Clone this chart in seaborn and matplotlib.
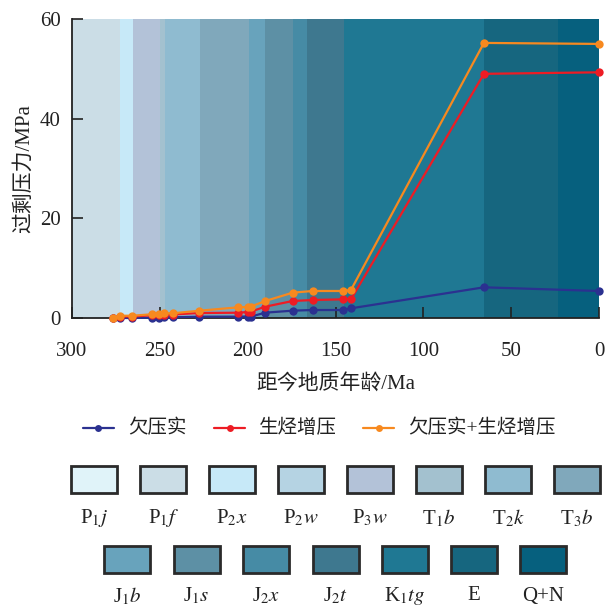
import numpy as np
import pandas as pd
import matplotlib
matplotlib.use('Agg')
import matplotlib.pyplot as plt
import seaborn as sns
from matplotlib.lines import Line2D
from matplotlib.patches import Rectangle

# data
age = [276.5, 272.7, 265.7, 254.6, 250.5, 247.5, 242.7, 227.5, 205.3, 200.0,
       198.3, 190.0, 174.4, 163.0, 145.6, 141.2, 65.5, 0.0]
undercompaction = [0.0, 0.0, 0.0, 0.06, 0.1, 0.15, 0.15, 0.27, 0.27, 0.3,
                   0.27, 1.07, 1.47, 1.6, 1.6, 1.94, 6.16, 5.42]
hydrocarbon = [0.0, 0.3, 0.3, 0.55, 0.65, 0.7, 0.7, 1.0, 1.06, 1.2,
               1.27, 2.27, 3.41, 3.61, 3.75, 3.75, 49.0, 49.3]
combined = [0.0, 0.45, 0.46, 0.74, 0.85, 0.94, 0.94, 1.46, 2.15, 2.2,
            2.27, 3.41, 5.08, 5.42, 5.42, 5.62, 55.2, 55.0]
series_names = ['欠压实', '生烃增压', '欠压实+生烃增压']
series_colors = ['#2b3190', '#ed1c24', '#f7891f']

# strata legend
strata = [r'P$_1\mathit{j}$', r'P$_1\mathit{f}$', r'P$_2\mathit{x}$', r'P$_2\mathit{w}$',
          r'P$_3\mathit{w}$', r'T$_1\mathit{b}$', r'T$_2\mathit{k}$', r'T$_3\mathit{b}$',
          r'J$_1\mathit{b}$', r'J$_1\mathit{s}$', r'J$_2\mathit{x}$', r'J$_2\mathit{t}$',
          r'K$_1\mathit{tg}$', 'E', 'Q+N']
strata_colors = ['#e0f3f9', '#cbdde6', '#c7e9f8', '#b5d3e3', '#b3c2d8', '#a3c1cf',
                 '#8fbbd0', '#80a8bb', '#68a3bc', '#5d90a5', '#468ba5', '#3e788f',
                 '#1f7893', '#16667f', '#06607e']

# background bands (age boundaries) and which stratum colour they use
band_edges = [300, 272.7, 265.5, 250, 247, 227, 199, 190, 174.2, 166, 145.2, 65.5, 23.4, 0]
band_strata = [1, 2, 4, 5, 6, 7, 8, 9, 10, 11, 12, 13, 14]

sns.set_style('ticks')
plt.rcParams['font.family'] = ['Liberation Serif', 'Noto Sans CJK SC']
plt.rcParams['mathtext.fontset'] = 'stix'

df = pd.DataFrame({
    'age': age * 3,
    'pressure': undercompaction + hydrocarbon + combined,
    'series': [series_names[0]] * len(age) + [series_names[1]] * len(age) + [series_names[2]] * len(age),
})

W, H = 614, 608
fig = plt.figure(figsize=(W / 100, H / 100), dpi=100)
ax = fig.add_axes([72 / W, 1 - 318 / H, 527 / W, 299 / H])

for i, s in enumerate(band_strata):
    ax.axvspan(band_edges[i], band_edges[i + 1], color=strata_colors[s], lw=0, zorder=0)

sns.lineplot(data=df, x='age', y='pressure', hue='series', hue_order=series_names,
             palette=series_colors, marker='o', markersize=6, markeredgewidth=0,
             linewidth=1.6, sort=False, legend=False, ax=ax, clip_on=False, zorder=3)

ax.set_xlim(300, 0)
ax.set_ylim(0, 60)
ax.set_xticks([300, 250, 200, 150, 100, 50, 0])
ax.set_yticks([0, 20, 40, 60])
ax.tick_params(direction='in', length=8, width=1.2, color='#222222', labelsize=15,
               labelcolor='#222222')
ax.tick_params(axis='x', pad=17)
ax.tick_params(axis='y', pad=8)
for side in ['top', 'right']:
    ax.spines[side].set_visible(False)
for side in ['left', 'bottom']:
    ax.spines[side].set_linewidth(1.3)
    ax.spines[side].set_color('#222222')
ax.set_xlabel('距今地质年龄/Ma', fontsize=15, color='#222222')
ax.set_ylabel('过剩压力/MPa', fontsize=15, color='#222222', labelpad=4)
ax.xaxis.set_label_coords(0.5, -(374 - 318) / 299)

# line legend
leg_y = 1 - 428 / H
leg_line_x = [83, 214, 363]
for x0, name, c in zip(leg_line_x, series_names, series_colors):
    fig.add_artist(Line2D([x0 / W, (x0 + 31) / W], [leg_y, leg_y], color=c, lw=1.6))
    fig.add_artist(Line2D([(x0 + 15.5) / W], [leg_y], color=c, marker='o',
                          markersize=5, markeredgewidth=0))
    fig.text((x0 + 45) / W, leg_y, name, ha='left', va='center', fontsize=14,
             color='#222222')

# strata swatches
bw, bh = 46 / W, 27 / H
row1_x = [71, 140, 209, 278, 347, 416, 485, 554]
row2_x = [104, 173.5, 243, 312.5, 382, 451, 520]
positions = [(x, 466, 518) for x in row1_x] + [(x, 546, 596) for x in row2_x]
for (x, ytop, ylab), lab, c in zip(positions, strata, strata_colors):
    fig.add_artist(Rectangle((x / W, 1 - (ytop + 27) / H), bw, bh,
                             facecolor=c, edgecolor='#2a2a2a', lw=2.0))
    fig.text((x + 23) / W, 1 - ylab / H, lab, ha='center', va='center',
             fontsize=15, color='#222222')

fig.savefig('out.png', dpi=100)
